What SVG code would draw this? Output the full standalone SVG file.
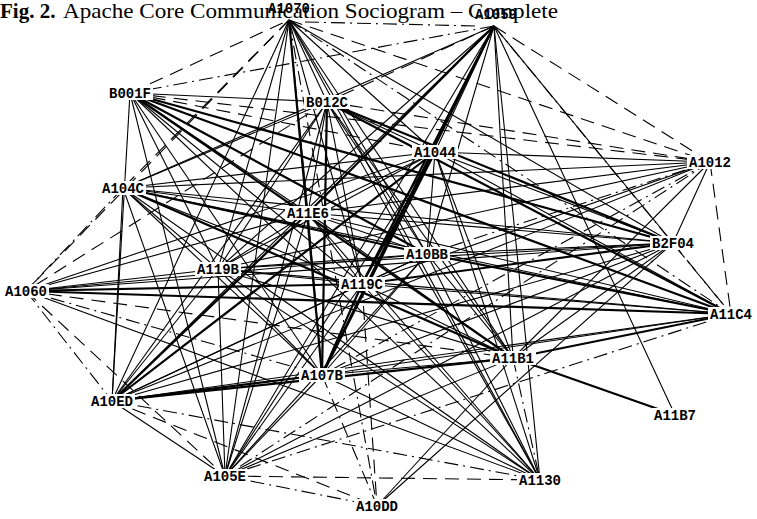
<svg xmlns="http://www.w3.org/2000/svg" width="757" height="519" viewBox="0 0 757 519">
<style>
.e line{stroke:#000;fill:none}
.s1{stroke-width:1.1}
.s2{stroke-width:2.2}
.s3{stroke-width:1.1;stroke-dasharray:14 8}
.s4{stroke-width:1.1;stroke-dasharray:14 5 2 5}
.bg{fill:#fff}
.lb{font-family:"Liberation Mono","Courier New",monospace;font-size:14px;fill:#000;text-anchor:middle;font-weight:bold}
.tt{font-family:"Liberation Serif","Times New Roman",serif;font-size:21px;fill:#000}
</style>
<rect width="757" height="519" fill="#fff"/>
<text class="tt" x="0" y="18"><tspan font-weight="bold">Fig. 2.</tspan></text>
<text class="tt" x="63" y="18" textLength="495" lengthAdjust="spacingAndGlyphs">Apache Core Communication Sociogram – Complete</text>
<g id="connectors" class="e">
<line class="s4" x1="305" y1="22" x2="478" y2="26"/>
<line class="s1" x1="289" y1="20" x2="327" y2="102"/>
<line class="s1" x1="289" y1="20" x2="435" y2="152"/>
<line class="s3" x1="289" y1="20" x2="710" y2="162"/>
<line class="s3" x1="289" y1="20" x2="123" y2="188"/>
<line class="s1" x1="289" y1="20" x2="308" y2="213"/>
<line class="s1" x1="289" y1="20" x2="673" y2="243"/>
<line class="s1" x1="289" y1="20" x2="427" y2="254"/>
<line class="s1" x1="289" y1="20" x2="218" y2="269"/>
<line class="s3" x1="289" y1="20" x2="26" y2="291"/>
<line class="s1" x1="289" y1="20" x2="362" y2="284"/>
<line class="s4" x1="289" y1="20" x2="731" y2="314"/>
<line class="s1" x1="289" y1="20" x2="513" y2="358"/>
<line class="s2" x1="289" y1="20" x2="322" y2="375"/>
<line class="s1" x1="289" y1="20" x2="112" y2="401"/>
<line class="s1" x1="289" y1="20" x2="225" y2="476"/>
<line class="s1" x1="289" y1="20" x2="540" y2="480"/>
<line class="s4" x1="289" y1="20" x2="377" y2="506"/>
<line class="s3" x1="130" y1="93" x2="289" y2="20"/>
<line class="s4" x1="494" y1="26" x2="130" y2="93"/>
<line class="s3" x1="494" y1="26" x2="327" y2="102"/>
<line class="s1" x1="494" y1="26" x2="435" y2="152"/>
<line class="s3" x1="494" y1="26" x2="710" y2="162"/>
<line class="s1" x1="494" y1="26" x2="123" y2="188"/>
<line class="s2" x1="494" y1="26" x2="308" y2="213"/>
<line class="s1" x1="494" y1="26" x2="673" y2="243"/>
<line class="s1" x1="494" y1="26" x2="427" y2="254"/>
<line class="s1" x1="494" y1="26" x2="218" y2="269"/>
<line class="s2" x1="494" y1="26" x2="362" y2="284"/>
<line class="s4" x1="494" y1="26" x2="731" y2="314"/>
<line class="s1" x1="494" y1="26" x2="513" y2="358"/>
<line class="s2" x1="494" y1="26" x2="322" y2="375"/>
<line class="s1" x1="494" y1="26" x2="112" y2="401"/>
<line class="s1" x1="494" y1="26" x2="675" y2="415"/>
<line class="s1" x1="494" y1="26" x2="225" y2="476"/>
<line class="s1" x1="494" y1="26" x2="540" y2="480"/>
<line class="s1" x1="130" y1="93" x2="327" y2="102"/>
<line class="s3" x1="130" y1="93" x2="435" y2="152"/>
<line class="s3" x1="130" y1="93" x2="710" y2="162"/>
<line class="s1" x1="130" y1="93" x2="308" y2="213"/>
<line class="s2" x1="130" y1="93" x2="673" y2="243"/>
<line class="s2" x1="130" y1="93" x2="427" y2="254"/>
<line class="s1" x1="130" y1="93" x2="218" y2="269"/>
<line class="s1" x1="130" y1="93" x2="362" y2="284"/>
<line class="s2" x1="130" y1="93" x2="731" y2="314"/>
<line class="s2" x1="130" y1="93" x2="513" y2="358"/>
<line class="s1" x1="130" y1="93" x2="322" y2="375"/>
<line class="s1" x1="130" y1="93" x2="112" y2="401"/>
<line class="s1" x1="130" y1="93" x2="225" y2="476"/>
<line class="s1" x1="130" y1="93" x2="540" y2="480"/>
<line class="s1" x1="327" y1="102" x2="435" y2="152"/>
<line class="s3" x1="327" y1="102" x2="710" y2="162"/>
<line class="s1" x1="327" y1="102" x2="123" y2="188"/>
<line class="s1" x1="327" y1="102" x2="308" y2="213"/>
<line class="s2" x1="327" y1="102" x2="673" y2="243"/>
<line class="s1" x1="327" y1="102" x2="427" y2="254"/>
<line class="s1" x1="327" y1="102" x2="218" y2="269"/>
<line class="s1" x1="327" y1="102" x2="362" y2="284"/>
<line class="s2" x1="327" y1="102" x2="731" y2="314"/>
<line class="s1" x1="327" y1="102" x2="513" y2="358"/>
<line class="s2" x1="327" y1="102" x2="322" y2="375"/>
<line class="s1" x1="327" y1="102" x2="112" y2="401"/>
<line class="s1" x1="327" y1="102" x2="225" y2="476"/>
<line class="s1" x1="327" y1="102" x2="540" y2="480"/>
<line class="s3" x1="327" y1="102" x2="26" y2="291"/>
<line class="s1" x1="435" y1="152" x2="710" y2="162"/>
<line class="s1" x1="435" y1="152" x2="123" y2="188"/>
<line class="s1" x1="435" y1="152" x2="308" y2="213"/>
<line class="s1" x1="435" y1="152" x2="673" y2="243"/>
<line class="s1" x1="435" y1="152" x2="427" y2="254"/>
<line class="s1" x1="435" y1="152" x2="218" y2="269"/>
<line class="s1" x1="435" y1="152" x2="26" y2="291"/>
<line class="s2" x1="435" y1="152" x2="362" y2="284"/>
<line class="s1" x1="435" y1="152" x2="731" y2="314"/>
<line class="s1" x1="435" y1="152" x2="513" y2="358"/>
<line class="s2" x1="435" y1="152" x2="322" y2="375"/>
<line class="s2" x1="435" y1="152" x2="112" y2="401"/>
<line class="s1" x1="435" y1="152" x2="225" y2="476"/>
<line class="s1" x1="435" y1="152" x2="540" y2="480"/>
<line class="s1" x1="710" y1="162" x2="123" y2="188"/>
<line class="s1" x1="710" y1="162" x2="308" y2="213"/>
<line class="s1" x1="710" y1="162" x2="673" y2="243"/>
<line class="s4" x1="710" y1="162" x2="427" y2="254"/>
<line class="s1" x1="710" y1="162" x2="218" y2="269"/>
<line class="s1" x1="710" y1="162" x2="362" y2="284"/>
<line class="s3" x1="710" y1="162" x2="731" y2="314"/>
<line class="s1" x1="710" y1="162" x2="513" y2="358"/>
<line class="s4" x1="710" y1="162" x2="322" y2="375"/>
<line class="s1" x1="710" y1="162" x2="112" y2="401"/>
<line class="s4" x1="710" y1="162" x2="225" y2="476"/>
<line class="s1" x1="123" y1="188" x2="308" y2="213"/>
<line class="s1" x1="123" y1="188" x2="673" y2="243"/>
<line class="s2" x1="123" y1="188" x2="427" y2="254"/>
<line class="s1" x1="123" y1="188" x2="218" y2="269"/>
<line class="s4" x1="123" y1="188" x2="26" y2="291"/>
<line class="s1" x1="123" y1="188" x2="362" y2="284"/>
<line class="s1" x1="123" y1="188" x2="731" y2="314"/>
<line class="s2" x1="123" y1="188" x2="513" y2="358"/>
<line class="s1" x1="123" y1="188" x2="322" y2="375"/>
<line class="s1" x1="123" y1="188" x2="112" y2="401"/>
<line class="s1" x1="123" y1="188" x2="225" y2="476"/>
<line class="s1" x1="123" y1="188" x2="540" y2="480"/>
<line class="s1" x1="308" y1="213" x2="673" y2="243"/>
<line class="s1" x1="308" y1="213" x2="427" y2="254"/>
<line class="s1" x1="308" y1="213" x2="218" y2="269"/>
<line class="s1" x1="308" y1="213" x2="26" y2="291"/>
<line class="s1" x1="308" y1="213" x2="362" y2="284"/>
<line class="s1" x1="308" y1="213" x2="731" y2="314"/>
<line class="s1" x1="308" y1="213" x2="513" y2="358"/>
<line class="s1" x1="308" y1="213" x2="322" y2="375"/>
<line class="s2" x1="308" y1="213" x2="112" y2="401"/>
<line class="s1" x1="308" y1="213" x2="225" y2="476"/>
<line class="s1" x1="308" y1="213" x2="540" y2="480"/>
<line class="s1" x1="673" y1="243" x2="427" y2="254"/>
<line class="s1" x1="673" y1="243" x2="218" y2="269"/>
<line class="s2" x1="673" y1="243" x2="362" y2="284"/>
<line class="s3" x1="673" y1="243" x2="731" y2="314"/>
<line class="s1" x1="673" y1="243" x2="513" y2="358"/>
<line class="s1" x1="673" y1="243" x2="322" y2="375"/>
<line class="s1" x1="673" y1="243" x2="112" y2="401"/>
<line class="s1" x1="673" y1="243" x2="225" y2="476"/>
<line class="s1" x1="673" y1="243" x2="377" y2="506"/>
<line class="s1" x1="673" y1="243" x2="26" y2="291"/>
<line class="s1" x1="427" y1="254" x2="218" y2="269"/>
<line class="s1" x1="427" y1="254" x2="26" y2="291"/>
<line class="s1" x1="427" y1="254" x2="362" y2="284"/>
<line class="s2" x1="427" y1="254" x2="731" y2="314"/>
<line class="s1" x1="427" y1="254" x2="513" y2="358"/>
<line class="s1" x1="427" y1="254" x2="322" y2="375"/>
<line class="s1" x1="427" y1="254" x2="112" y2="401"/>
<line class="s1" x1="427" y1="254" x2="225" y2="476"/>
<line class="s1" x1="427" y1="254" x2="540" y2="480"/>
<line class="s1" x1="218" y1="269" x2="26" y2="291"/>
<line class="s1" x1="218" y1="269" x2="362" y2="284"/>
<line class="s1" x1="218" y1="269" x2="731" y2="314"/>
<line class="s1" x1="218" y1="269" x2="513" y2="358"/>
<line class="s1" x1="218" y1="269" x2="322" y2="375"/>
<line class="s1" x1="218" y1="269" x2="112" y2="401"/>
<line class="s1" x1="218" y1="269" x2="225" y2="476"/>
<line class="s1" x1="218" y1="269" x2="540" y2="480"/>
<line class="s2" x1="26" y1="291" x2="362" y2="284"/>
<line class="s2" x1="26" y1="291" x2="731" y2="314"/>
<line class="s3" x1="26" y1="291" x2="513" y2="358"/>
<line class="s4" x1="26" y1="291" x2="322" y2="375"/>
<line class="s4" x1="26" y1="291" x2="112" y2="401"/>
<line class="s3" x1="26" y1="291" x2="225" y2="476"/>
<line class="s1" x1="26" y1="291" x2="540" y2="480"/>
<line class="s1" x1="362" y1="284" x2="731" y2="314"/>
<line class="s1" x1="362" y1="284" x2="513" y2="358"/>
<line class="s2" x1="362" y1="284" x2="322" y2="375"/>
<line class="s1" x1="362" y1="284" x2="112" y2="401"/>
<line class="s1" x1="362" y1="284" x2="225" y2="476"/>
<line class="s1" x1="362" y1="284" x2="540" y2="480"/>
<line class="s3" x1="362" y1="284" x2="377" y2="506"/>
<line class="s2" x1="731" y1="314" x2="513" y2="358"/>
<line class="s1" x1="731" y1="314" x2="322" y2="375"/>
<line class="s1" x1="731" y1="314" x2="112" y2="401"/>
<line class="s4" x1="731" y1="314" x2="225" y2="476"/>
<line class="s1" x1="513" y1="358" x2="322" y2="375"/>
<line class="s2" x1="513" y1="358" x2="112" y2="401"/>
<line class="s2" x1="513" y1="358" x2="675" y2="415"/>
<line class="s1" x1="513" y1="358" x2="225" y2="476"/>
<line class="s4" x1="513" y1="358" x2="540" y2="480"/>
<line class="s1" x1="513" y1="358" x2="377" y2="506"/>
<line class="s2" x1="322" y1="375" x2="112" y2="401"/>
<line class="s1" x1="322" y1="375" x2="225" y2="476"/>
<line class="s1" x1="322" y1="375" x2="540" y2="480"/>
<line class="s4" x1="322" y1="375" x2="377" y2="506"/>
<line class="s1" x1="112" y1="401" x2="225" y2="476"/>
<line class="s4" x1="112" y1="401" x2="540" y2="480"/>
<line class="s3" x1="112" y1="401" x2="377" y2="506"/>
<line class="s3" x1="225" y1="476" x2="540" y2="480"/>
<line class="s4" x1="225" y1="476" x2="377" y2="506"/>
</g>
<g id="A1070"><text class="lb" x="289" y="13">A1070</text></g>
<g id="A1059"><text class="lb" x="496" y="19">A1059</text></g>
<g id="B001F"><rect class="bg" x="107" y="86" width="46" height="14"/><text class="lb" x="130" y="98">B001F</text></g>
<g id="B012C"><rect class="bg" x="304" y="95" width="46" height="14"/><text class="lb" x="327" y="107">B012C</text></g>
<g id="A1044"><rect class="bg" x="412" y="145" width="46" height="14"/><text class="lb" x="435" y="157">A1044</text></g>
<g id="A1012"><rect class="bg" x="687" y="155" width="46" height="14"/><text class="lb" x="710" y="167">A1012</text></g>
<g id="A104C"><rect class="bg" x="100" y="181" width="46" height="14"/><text class="lb" x="123" y="193">A104C</text></g>
<g id="A11E6"><rect class="bg" x="285" y="206" width="46" height="14"/><text class="lb" x="308" y="218">A11E6</text></g>
<g id="B2F04"><rect class="bg" x="650" y="236" width="46" height="14"/><text class="lb" x="673" y="248">B2F04</text></g>
<g id="A10BB"><rect class="bg" x="404" y="247" width="46" height="14"/><text class="lb" x="427" y="259">A10BB</text></g>
<g id="A119B"><rect class="bg" x="195" y="262" width="46" height="14"/><text class="lb" x="218" y="274">A119B</text></g>
<g id="A1060"><rect class="bg" x="3" y="284" width="46" height="14"/><text class="lb" x="26" y="296">A1060</text></g>
<g id="A119C"><rect class="bg" x="339" y="277" width="46" height="14"/><text class="lb" x="362" y="289">A119C</text></g>
<g id="A11C4"><rect class="bg" x="708" y="307" width="46" height="14"/><text class="lb" x="731" y="319">A11C4</text></g>
<g id="A11B1"><rect class="bg" x="490" y="351" width="46" height="14"/><text class="lb" x="513" y="363">A11B1</text></g>
<g id="A107B"><rect class="bg" x="299" y="368" width="46" height="14"/><text class="lb" x="322" y="380">A107B</text></g>
<g id="A10ED"><rect class="bg" x="89" y="394" width="46" height="14"/><text class="lb" x="112" y="406">A10ED</text></g>
<g id="A11B7"><rect class="bg" x="652" y="408" width="46" height="14"/><text class="lb" x="675" y="420">A11B7</text></g>
<g id="A105E"><rect class="bg" x="202" y="469" width="46" height="14"/><text class="lb" x="225" y="481">A105E</text></g>
<g id="A1130"><rect class="bg" x="517" y="473" width="46" height="14"/><text class="lb" x="540" y="485">A1130</text></g>
<g id="A10DD"><rect class="bg" x="354" y="499" width="46" height="14"/><text class="lb" x="377" y="511">A10DD</text></g>
</svg>
